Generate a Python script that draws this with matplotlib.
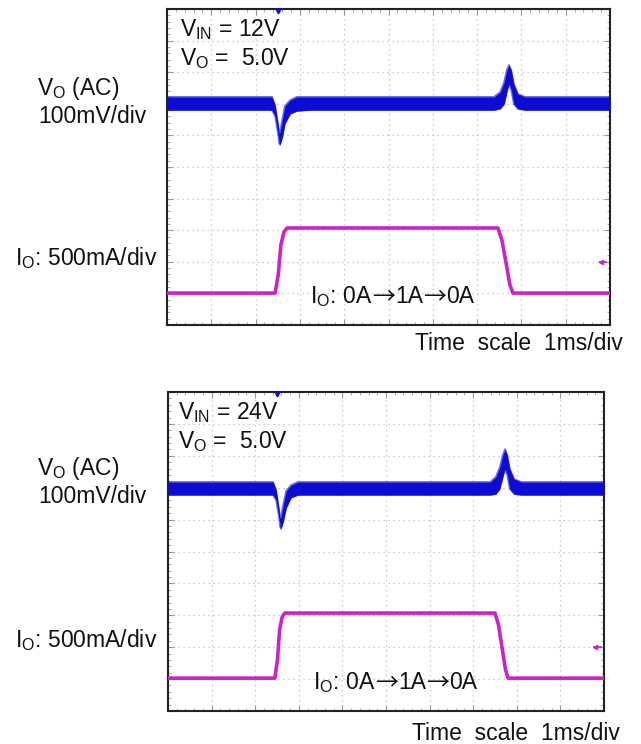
# Load-transient scope captures (Vo AC + Io step) for Vin = 12 V and 24 V.
# Writes out.png.
import matplotlib
matplotlib.use('Agg')
import matplotlib.pyplot as plt
from matplotlib.ticker import MultipleLocator

plt.rcParams['font.family'] = ['Liberation Sans', 'DejaVu Sans']
plt.rcParams['mathtext.fontset'] = 'custom'
plt.rcParams['mathtext.rm'] = 'Liberation Sans'
plt.rcParams['mathtext.it'] = 'Liberation Sans'

W, H = 641, 744

# Screen units: x = time in divisions (1 ms/div), y = screen divisions (0..10)
# Vo(AC) trace is a noisy band -> keep its upper and lower edge.
# Vin = 12 V capture
T_VO_12 = [0, 2.37, 2.44, 2.51, 2.53, 2.55, 2.60, 2.66, 2.78, 2.93, 3.23,
           7.38, 7.52, 7.61, 7.67, 7.72, 7.77, 7.83, 7.92, 8.08, 10]
VO_HI_12 = [7.22, 7.22, 6.96, 6.33, 6.08, 6.11, 6.49, 6.93, 7.12, 7.22, 7.22,
            7.22, 7.37, 7.69, 8.07, 8.23, 8.07, 7.63, 7.31, 7.22, 7.22]
VO_LO_12 = [6.80, 6.80, 6.61, 6.01, 5.76, 5.70, 5.92, 6.36, 6.68, 6.77, 6.80,
            6.80, 6.84, 6.99, 7.37, 7.63, 7.44, 6.99, 6.84, 6.80, 6.80]
T_IO_12 = [0, 2.44, 2.51, 2.57, 2.64, 2.71, 7.47, 7.56, 7.65, 7.74, 7.81, 10]
V_IO_12 = [1.01, 1.01, 1.58, 2.53, 2.94, 3.07, 3.07, 2.69, 1.99, 1.27, 1.01, 1.01]

# Vin = 24 V capture
T_VO_24 = [0, 2.41, 2.48, 2.55, 2.57, 2.59, 2.64, 2.71, 2.82, 2.98, 3.28,
           7.39, 7.52, 7.61, 7.68, 7.73, 7.78, 7.84, 7.94, 8.10, 10]
VO_HI_24 = [7.18, 7.18, 6.93, 6.30, 6.05, 6.08, 6.46, 6.90, 7.08, 7.18, 7.18,
            7.18, 7.34, 7.65, 8.03, 8.21, 8.03, 7.59, 7.27, 7.18, 7.18]
VO_LO_24 = [6.77, 6.77, 6.61, 6.02, 5.77, 5.71, 5.92, 6.36, 6.68, 6.77, 6.77,
            6.77, 6.80, 6.96, 7.34, 7.59, 7.40, 6.96, 6.80, 6.77, 6.77]
T_IO_24 = [0, 2.45, 2.51, 2.56, 2.62, 2.68, 7.50, 7.58, 7.66, 7.74, 7.80, 10]
V_IO_24 = [1.03, 1.03, 1.60, 2.55, 2.95, 3.07, 3.07, 2.70, 2.00, 1.30, 1.03, 1.03]

VIN_LABELS = ['12V', '24V']

BLUE = '#0c0cd4'
MAGENTA = '#cc22cc'
FS = 16.5


def px_box(l, t, r, b):
    return [l / W, 1 - b / H, (r - l) / W, (b - t) / H]


def ftext(fig, x, y, s, **kw):
    return fig.text(x / W, 1 - y / H, s, va='baseline', fontsize=FS,
                    color='#111', **kw)


def chain_text(fig, x, y, pieces):
    # pieces laid left to right on one baseline, each with its own family
    r = fig.canvas.get_renderer()
    for s, fam in pieces:
        t = ftext(fig, x, y, s, family=fam)
        x = t.get_window_extent(r).x1


def scope(ax, t_vo, hi, lo, t_io, v_io):
    ax.set_xlim(0, 10); ax.set_ylim(0, 10)
    for v in range(1, 10):
        ax.axvline(v, color='#bdbdbd', lw=0.9, ls=(0, (1, 3)), zorder=1)
        ax.axhline(v, color='#bdbdbd', lw=0.9, ls=(0, (1, 3)), zorder=1)
    ax.xaxis.set_minor_locator(MultipleLocator(0.2))
    ax.yaxis.set_minor_locator(MultipleLocator(0.2))
    ax.xaxis.set_major_locator(MultipleLocator(1))
    ax.yaxis.set_major_locator(MultipleLocator(1))
    ax.tick_params(which='both', direction='in', top=True, right=True,
                   labelbottom=False, labelleft=False, color='#999')
    ax.tick_params(which='major', length=4, width=0.8)
    ax.tick_params(which='minor', length=2, width=0.6)
    for sp in ax.spines.values():
        sp.set_linewidth(1.5); sp.set_color('#222')

    ax.fill_between(t_vo, lo, hi, color=BLUE, lw=0, zorder=3)
    ax.plot(t_vo, hi, color=BLUE, lw=1.2, alpha=0.6, zorder=3)
    ax.plot(t_vo, lo, color=BLUE, lw=1.2, alpha=0.6, zorder=3)
    ax.plot(t_io, v_io, color=MAGENTA, lw=2.6, solid_joinstyle='round', zorder=4)

    # trigger / ground markers
    ax.plot([2.5], [9.93], marker='v', ms=3.5, color=BLUE, clip_on=False, zorder=5)
    ax.plot([9.78, 9.92], [2.0, 2.0], color=MAGENTA, lw=1.2, zorder=5)
    ax.plot([9.8], [2.0], marker='<', ms=3, color=MAGENTA, zorder=5)


fig = plt.figure(figsize=(W / 100, H / 100), dpi=100)
fig.patch.set_facecolor('white')

ax_top = fig.add_axes(px_box(167, 9, 610, 325))
scope(ax_top, T_VO_12, VO_HI_12, VO_LO_12, T_IO_12, V_IO_12)
ax_bot = fig.add_axes(px_box(168, 392, 604, 711))
scope(ax_bot, T_VO_24, VO_HI_24, VO_LO_24, T_IO_24, V_IO_24)

LS = 'Liberation Sans'
ARROW = 'Noto Sans CJK JP'
for i, (vx, oy, oy_l, io_x, io_y, ts_y, ts_r) in enumerate([
        (180, 0, 0, 310, 303, 350, 623),
        (178, 383, 380, 313, 689, 740, 620)]):
    ftext(fig, vx, 36 + oy, r'V$_{\mathrm{IN}}$ = ' + VIN_LABELS[i])
    ftext(fig, vx, 65 + oy, r'V$_{\mathrm{O}}$ =  5.0V')
    ftext(fig, 37, 95 + oy_l, r'V$_{\mathrm{O}}$ (AC)')
    ftext(fig, 38, 123 + oy_l, '100mV/div')
    ftext(fig, 15, 265 + oy_l + 2 * i, r'I$_{\mathrm{O}}$: 500mA/div')
    chain_text(fig, io_x, io_y, [(r'I$_{\mathrm{O}}$: 0A', LS), ('→', ARROW),
                                 ('1A', LS), ('→', ARROW), ('0A', LS)])
    ftext(fig, ts_r, ts_y, 'Time  scale  1ms/div', ha='right')

fig.savefig('out.png', dpi=100, facecolor='white')
plt.close(fig)
